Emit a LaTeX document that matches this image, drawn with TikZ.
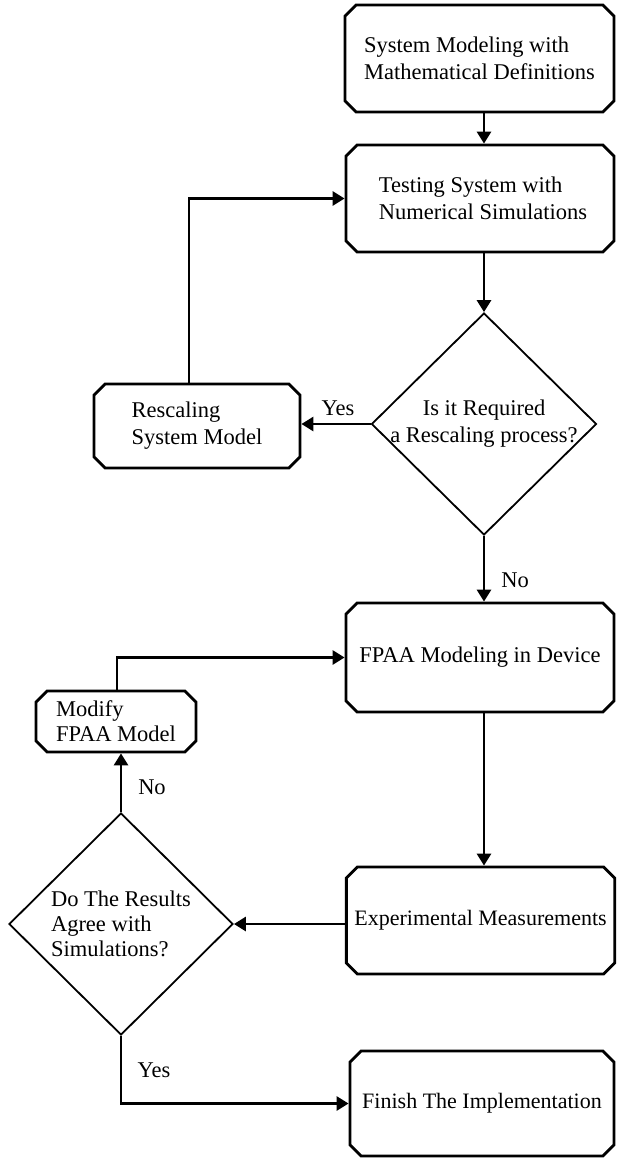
\documentclass[tikz,border=0pt]{standalone}
\usepackage{fontspec}
\setmainfont{Liberation Serif}
\usetikzlibrary{shapes.misc,shapes.geometric,arrows.meta}
\begin{document}
\begin{tikzpicture}[x=1pt,y=-1pt,
  txt/.style={font=\fontsize{22.5}{27}\selectfont},
  box/.style={chamfered rectangle, chamfered rectangle xsep=8pt, draw, line width=2.8pt,
    inner sep=0pt, align=left, txt},
  diam/.style={diamond, draw, line width=1.8pt, inner sep=0pt},
  dtext/.style={txt},
  arr/.style={draw, line width=2.8pt, -{Triangle[length=12pt,width=14pt]}},
  lab/.style={txt, inner sep=0pt}]
\useasboundingbox (0,0) rectangle (616,1159);

\node[box, minimum width=269pt, minimum height=107pt] (b1) at (479.5,58.5)
  {System Modeling with\\Mathematical Definitions};
\node[box, minimum width=268pt, minimum height=107pt] (b2) at (480,198.5)
  {\hspace*{6pt}Testing System with\\\hspace*{6pt}Numerical Simulations};
\node[diam, minimum width=225pt, minimum height=222pt,
  label={[dtext, align=center]center:Is it Required\\a Rescaling process?}] (d1) at (484,424) {};
\node[box, minimum width=206pt, minimum height=84pt] (rs) at (197,426)
  {Rescaling\\System Model};
\node[box, minimum width=268pt, minimum height=109pt] (fp) at (480,657.5)
  {FPAA Modeling in Device};
\node[box, minimum width=160pt, minimum height=61pt, font=\fontsize{22.5}{25}\selectfont] (mo) at (116,721.5)
  {Modify\\FPAA Model};
\node[box, minimum width=267pt, minimum height=107pt, font=\fontsize{22}{27}\selectfont] (ex) at (480.5,920.5)
  {Experimental Measurements};
\node[diam, minimum width=224pt, minimum height=222pt,
  label={[dtext, align=left, font=\fontsize{22.5}{25}\selectfont]center:Do The Results\\Agree with\\Simulations?}] (d2) at (121,924) {};
\node[box, minimum width=264pt, minimum height=105pt, font=\fontsize{22}{27}\selectfont] (fi) at (482,1103.5)
  {Finish The Implementation};

\draw[arr] (b1.south -| d1.north) -- (b2.north -| d1.north);
\draw[arr] (b2.south -| d1.north) -- (d1.north);
\draw[arr] (d1.west) -- (d1.west -| rs.east);
\draw[arr] ([xshift=-8pt]rs.north) |- (b2.west);
\draw[arr] (d1.south) -- (d1.south |- fp.north);
\draw[arr] (fp.south -| d1.south) -- (ex.north -| d1.south);
\draw[arr] (ex.west |- d2.east) -- (d2.east);
\draw[arr] (d2.north) -- (d2.north |- mo.south);
\draw[arr] ([xshift=1pt]mo.north) |- (fp.west);
\draw[arr] (d2.south) |- (fi.west);

\node[lab] (yes1) at (338,408) {Yes};
\node[lab] (no1) at (515,580) {No};
\node[lab] (no2) at (152,787) {No};
\node[lab] (yes2) at (154,1070) {Yes};
\end{tikzpicture}
\end{document}
